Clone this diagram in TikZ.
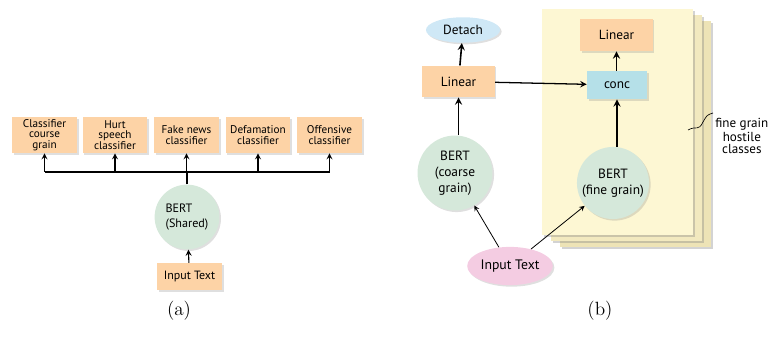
\documentclass[tikz,border=0pt]{standalone}
\usepackage{fontspec}
\setsansfont{PT Sans}
\usetikzlibrary{shapes.geometric,shadows}
\definecolor{peach}{HTML}{FDD3A6}
\definecolor{mint}{HTML}{D5E8DA}
\definecolor{skyblue}{HTML}{CFE8F6}
\definecolor{concblue}{HTML}{B5E0E8}
\definecolor{pinkish}{HTML}{F4CCE2}
\definecolor{page}{HTML}{FDF7D3}
\definecolor{pageback}{HTML}{EDE3B6}
\tikzset{
  shade/.style={drop shadow={shadow xshift=1pt,shadow yshift=-1pt,opacity=0.25}},
  clsbox/.style={rectangle,fill=peach,shade,minimum width=1.43cm,minimum height=0.79cm,
    align=center,inner sep=1pt,font=\sffamily\fontsize{7}{6.6}\selectfont},
  bertnode/.style={circle,fill=mint,shade,align=center,font=\sffamily\fontsize{8.4}{10}\selectfont},
  linbox/.style={rectangle,fill=peach,shade,minimum width=1.6cm,minimum height=0.69cm,
    font=\sffamily\fontsize{8.3}{9}\selectfont},
  pagebox/.style={fill=page,drop shadow={shadow xshift=1.5pt,shadow yshift=-1.5pt,opacity=0.35}},
}
\begin{document}
\begin{tikzpicture}[x=0.022cm,y=-0.022cm,>=stealth]
  \useasboundingbox (0,0) rectangle (768,339);
  % (a) shared model
  \node[clsbox] (c1) at (44.5,135) {Classifier\\course\\grain};
  \node[clsbox] (c2) at (115,135) {Hurt\\speech\\classifier};
  \node[clsbox] (c3) at (186.5,135) {Fake news\\classifier};
  \node[clsbox] (c4) at (258,135) {Defamation\\classifier};
  \node[clsbox] (c5) at (329.5,135) {Offensive\\classifier};
  \node[bertnode,minimum size=1.36cm,align=left,font=\sffamily\fontsize{7.6}{9.4}\selectfont] (bs) at (187,217) {BERT\\(Shared)};
  \node[clsbox,minimum height=0.59cm,font=\sffamily\fontsize{7.5}{9}\selectfont] (ina) at (189.5,276.5) {Input Text};
  \coordinate (hub) at (187,172);
  \draw[line width=0.7pt] (bs) -- (hub);
  \draw[line width=0.7pt] (c1 |- hub) -- (c5 |- hub);
  \foreach \c in {c1,c2,c3,c4,c5}
    \draw[->,line width=0.7pt] (\c |- hub) -- (\c);
  \draw[->,line width=0.7pt] (ina) -- (bs);
  % (b) stacked fine grain models
  \fill[pageback,drop shadow={shadow xshift=1.5pt,shadow yshift=-1.5pt,opacity=0.35}] (560,21) rectangle (711,247);
  \fill[pageback!70!page,drop shadow={shadow xshift=1.5pt,shadow yshift=-1.5pt,opacity=0.35}] (551,15) rectangle (702,241);
  \fill[pagebox] (542,9) rectangle (693,235);
  \node[ellipse,fill=skyblue,shade,minimum width=1.63cm,minimum height=0.56cm,inner sep=1pt,
    font=\sffamily\fontsize{8.3}{9}\selectfont] (det) at (463,30) {Detach};
  \node[linbox] (linl) at (458.5,81.5) {Linear};
  \node[bertnode,minimum size=1.63cm] (bc) at (455,173) {BERT\\(coarse\\grain)};
  \node[linbox,minimum height=0.71cm] (linr) at (616.5,35) {Linear};
  \node[rectangle,fill=concblue,shade,minimum width=1.32cm,minimum height=0.62cm,
    font=\sffamily\fontsize{8.3}{9}\selectfont] (conc) at (617,85) {conc};
  \node[bertnode,minimum size=1.58cm,inner sep=1pt] (bf) at (613,183) {BERT\\(fine grain)};
  \node[ellipse,fill=pinkish,shade,minimum width=1.87cm,minimum height=0.84cm,inner sep=0.5pt,
    font=\sffamily\fontsize{8.6}{9}\selectfont] (inb) at (510,266) {Input Text};
  \draw[->,line width=1pt] (linl) -- (det);
  \draw[->,line width=1pt] (bc.north -| linl) -- (linl);
  \draw[->,line width=0.8pt] (linl) -- (conc);
  \draw[->,line width=1pt] (conc.north -| linr) -- (linr);
  \draw[->,line width=1pt] (bf.north -| conc) -- (conc);
  \draw[->,line width=0.5pt] (inb) -- (bc);
  \draw[->,line width=0.5pt] (inb) -- (bf);
  \coordinate (tip) at (713,113);
  \draw[line width=0.4pt] (688,130) .. controls (697,125) and (698,132) .. (703,122) .. controls (707,115) .. (tip);
  \node[font=\sffamily\fontsize{8.2}{7.2}\selectfont,align=center,anchor=west,inner sep=0pt] (lbl) at (715,136) {fine grain\\hostile\\classes};
  % captions
  \node[font=\large] (capa) at (179,311) {(a)};
  \node[font=\large] (capb) at (600,311) {(b)};
\end{tikzpicture}
\end{document}
